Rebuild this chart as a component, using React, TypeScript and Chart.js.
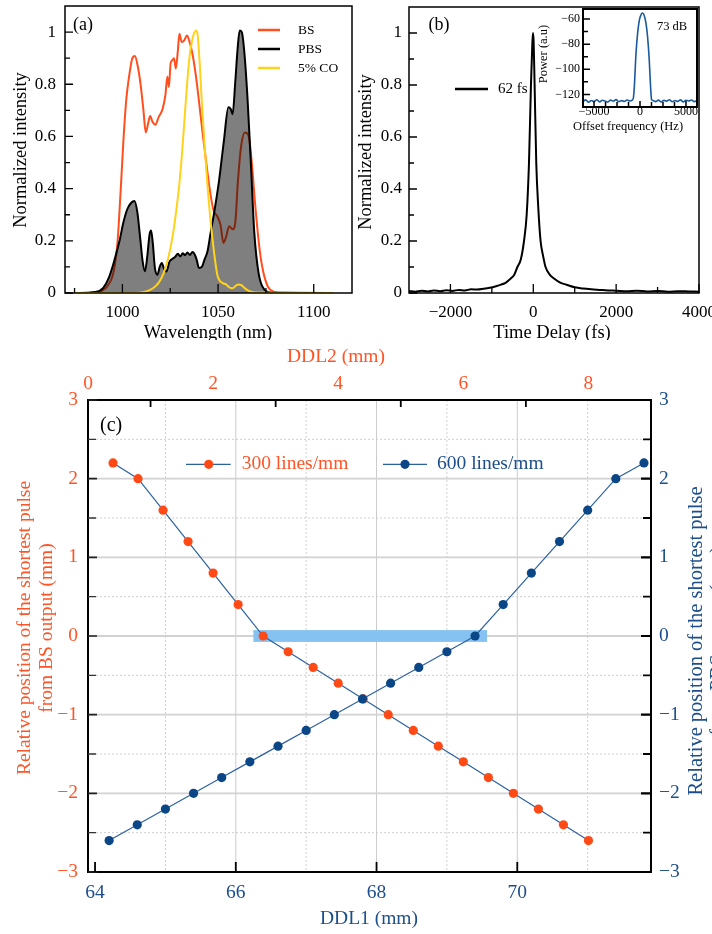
import React, { useEffect, useRef } from "react";
import { Chart, registerables } from "chart.js";

Chart.register(...registerables);

/* ===================== DATA ===================== */
// (a) spectra
const BS_WL = [975, 985, 989, 992.5, 995.5, 997.5, 999, 1000.5, 1002, 1003.5, 1005, 1006.5, 1008, 1009.5, 1011, 1012.2, 1013.3, 1014.5, 1015.8, 1017.2, 1019, 1021, 1022.5, 1023.5, 1024.3, 1025.2, 1026.2, 1027, 1027.9, 1029, 1029.8, 1031, 1032.3, 1033.7, 1035, 1036.6, 1038.4, 1040.1, 1041.9, 1043.6, 1045.4, 1047.5, 1049.5, 1051.3, 1052.8, 1054.2, 1055.8, 1057.6, 1059, 1060.3, 1062, 1064, 1065.8, 1067.5, 1069.5, 1071.5, 1073.5, 1076, 1079, 1083, 1110];
const BS_I = [0, 0.002, 0.008, 0.03, 0.085, 0.2, 0.38, 0.58, 0.74, 0.83, 0.895, 0.908, 0.87, 0.8, 0.7, 0.615, 0.645, 0.678, 0.655, 0.645, 0.675, 0.705, 0.76, 0.83, 0.79, 0.88, 0.893, 0.9, 0.86, 0.93, 0.994, 0.962, 0.968, 0.987, 0.965, 0.917, 0.833, 0.73, 0.615, 0.513, 0.41, 0.32, 0.295, 0.26, 0.192, 0.215, 0.256, 0.244, 0.27, 0.42, 0.56, 0.615, 0.605, 0.51, 0.33, 0.18, 0.085, 0.025, 0.005, 0.001, 0];

const PBS_WL = [975, 986, 990, 993, 996, 998.5, 1000.5, 1002.5, 1004.5, 1006.3, 1007.8, 1009.3, 1010.6, 1011.8, 1013, 1014.2, 1015, 1015.9, 1017, 1018.3, 1019.5, 1020.6, 1021.8, 1023, 1024.6, 1026, 1027.5, 1029, 1030.3, 1031.5, 1032.8, 1034, 1035.3, 1036.6, 1037.6, 1038.8, 1040, 1041.5, 1043, 1044.5, 1046.2, 1048, 1050.5, 1053, 1055.4, 1056.6, 1057.6, 1059, 1060.2, 1061.3, 1062.4, 1063.7, 1065.4, 1067.2, 1068.9, 1071.2, 1074.2, 1078.5, 1110];
const PBS_I = [0, 0.004, 0.02, 0.06, 0.13, 0.2, 0.27, 0.32, 0.345, 0.353, 0.31, 0.21, 0.12, 0.083, 0.14, 0.225, 0.24, 0.19, 0.095, 0.07, 0.1, 0.115, 0.092, 0.082, 0.12, 0.13, 0.138, 0.15, 0.14, 0.152, 0.145, 0.155, 0.146, 0.157, 0.15, 0.128, 0.096, 0.1, 0.13, 0.16, 0.235, 0.31, 0.43, 0.58, 0.712, 0.705, 0.685, 0.81, 0.935, 1.006, 1.0, 0.925, 0.745, 0.49, 0.235, 0.075, 0.013, 0.001, 0];

const CO_WL = [975, 1005, 1012, 1016, 1019, 1021.5, 1024, 1026.3, 1028.2, 1029.8, 1031.2, 1032.5, 1033.8, 1035, 1036.2, 1037.4, 1038.4, 1039.3, 1040.4, 1041.6, 1043, 1044.6, 1046.3, 1048, 1049.6, 1050.8, 1052.4, 1054.1, 1055.8, 1057.6, 1059.3, 1060.8, 1062.2, 1063.7, 1066, 1069.5, 1110];
const CO_I = [0, 0, 0.005, 0.018, 0.04, 0.075, 0.135, 0.22, 0.32, 0.42, 0.54, 0.67, 0.8, 0.9, 0.96, 0.995, 1.006, 0.99, 0.88, 0.72, 0.56, 0.4, 0.26, 0.15, 0.07, 0.048, 0.038, 0.033, 0.022, 0.018, 0.028, 0.033, 0.03, 0.02, 0.008, 0.002, 0];

const A_X_TICKS = [1000, 1050, 1100];
const A_X_MINOR = [975, 1025, 1075];
const A_Y_TICKS = [0, 0.2, 0.4, 0.6, 0.8, 1];
const A_Y_MINOR = [0.1, 0.3, 0.5, 0.7, 0.9];
const A_LEGEND = ["BS", "PBS", "5% CO"];

// (b) autocorrelation
const AC_T = [-3000, -2850, -2700, -2550, -2400, -2250, -2100, -1950, -1800, -1650, -1500, -1350, -1200, -1050, -900, -780, -660, -550, -460, -384, -300, -224, -160, -104, -56, -25, -8, 8, 32, 72, 120, 176, 240, 296, 400, 500, 650, 800, 1000, 1200, 1400, 1600, 1800, 2000, 2250, 2500, 2750, 3000, 3250, 3500, 3750, 4000];
const AC_I = [0.008, 0.005, 0.009, 0.006, 0.01, 0.007, 0.011, 0.008, 0.012, 0.01, 0.014, 0.013, 0.016, 0.02, 0.026, 0.032, 0.04, 0.055, 0.07, 0.1, 0.13, 0.2, 0.3, 0.5, 0.8, 0.95, 1.0, 0.97, 0.8, 0.5, 0.33, 0.2, 0.14, 0.1, 0.07, 0.056, 0.04, 0.032, 0.022, 0.017, 0.014, 0.012, 0.01, 0.009, 0.007, 0.009, 0.006, 0.008, 0.005, 0.007, 0.006, 0.005];
const B_X_TICKS = [-2000, 0, 2000, 4000];
const B_X_MINOR = [-1000, 1000, 3000];
const B_LEGEND = "62 fs";

// (b) inset RF spectrum
const RF_F = [-6200, -5900, -5600, -5300, -5000, -4700, -4400, -4100, -3800, -3500, -3200, -2900, -2600, -2300, -2000, -1700, -1400, -1100, -850, -725, -617, -433, -258, -76, 108, 281, 465, 649, 822, 1006, 1150, 1256, 1400, 1700, 2000, 2300, 2600, 2900, 3200, 3500, 3800, 4100, 4400, 4700, 5000, 5300, 5600, 5900, 6200];
const RF_P = [-125.5, -124.3, -126.2, -124.8, -125.6, -124.2, -125.9, -124.6, -125.3, -126, -124.5, -125.4, -124.1, -125.8, -124.9, -125.6, -124.4, -125.2, -124.6, -123, -113.9, -87, -71.2, -61, -56.6, -55.2, -57.4, -63.2, -73.9, -92.6, -113.9, -124, -124.9, -125.7, -124.5, -126, -124.7, -125.3, -124.2, -125.8, -124.8, -125.5, -124.3, -125.9, -124.6, -125.2, -124.4, -125.7, -125];
const RF_X_TICKS = [-5000, 0, 5000];
const RF_X_MINOR = [-3750, -2500, -1250, 1250, 2500, 3750];
const RF_Y_TICKS = [-120, -100, -80, -60];
const RF_Y_MINOR = [-110, -90, -70];
const RF_NOTE = "73 dB";

// (c) relative position
const DDL2_300 = [0.4, 0.8, 1.2, 1.6, 2.0, 2.4, 2.8, 3.2, 3.6, 4.0, 4.4, 4.8, 5.2, 5.6, 6.0, 6.4, 6.8, 7.2, 7.6, 8.0];
const POS_300 = [2.2, 2.0, 1.6, 1.2, 0.8, 0.4, 0, -0.2, -0.4, -0.6, -0.8, -1.0, -1.2, -1.4, -1.6, -1.8, -2.0, -2.2, -2.4, -2.6];
const DDL1_600 = [64.2, 64.6, 65.0, 65.4, 65.8, 66.2, 66.6, 67.0, 67.4, 67.8, 68.2, 68.6, 69.0, 69.4, 69.8, 70.2, 70.6, 71.0, 71.4, 71.8];
const POS_600 = [-2.6, -2.4, -2.2, -2.0, -1.8, -1.6, -1.4, -1.2, -1.0, -0.8, -0.6, -0.4, -0.2, 0, 0.4, 0.8, 1.2, 1.6, 2.0, 2.2];
const C_LEGEND = ["300 lines/mm", "600 lines/mm"];
const HIGHLIGHT_X = [66.25, 69.57];
const HIGHLIGHT_Y = [-0.075, 0.075];
const C_Y_TICKS = [-3, -2, -1, 0, 1, 2, 3];
const C_Y_HALF = [-2.5, -1.5, -0.5, 0.5, 1.5, 2.5];
const C_Y_GRID = [-2, -1, 0, 1, 2];
const DDL1_TICKS = [64, 66, 68, 70];
const DDL1_GRID_SOLID = [66, 68, 70];
const DDL1_GRID_DOT = [65, 67, 69, 71];
const DDL2_TICKS = [0, 2, 4, 6, 8];
const DDL2_MARKS = [1, 3, 5, 7];

/* ===================== STYLE ===================== */
const SERIF = '"Liberation Serif", "Times New Roman", serif';
const ORANGE_A = "#ff4f1f";
const YELLOW = "#ffd21c";
const ORANGE = "#ff4a16";
const ORANGE_TXT = "#ff5426";
const BLUE = "#0b4686";
const BLUE_TXT = "#1c4e8b";
const BLUE_LINE = "#2c61a0";
const RF_BLUE = "#1b5a9c";

const fmt = (v: any) => String(v).replace("-", "\u2212");
const xy = (xs: number[], ys: number[]) => xs.map((x, i) => ({ x, y: ys[i] }));

function scale(o: any) {
  const horiz = o.pos === "top" || o.pos === "bottom";
  return {
    type: "linear",
    axis: horiz ? "x" : "y",
    position: o.pos,
    min: o.min,
    max: o.max,
    bounds: "data",
    grid: { display: false, drawTicks: false },
    border: { display: false },
    afterBuildTicks: (s: any) => {
      s.ticks = o.ticks.map((v: number) => ({ value: v }));
    },
    afterFit: (s: any) => {
      if (horiz) s.height = o.size;
      else s.width = o.size;
      s.paddingLeft = 0;
      s.paddingRight = 0;
      s.paddingTop = 0;
      s.paddingBottom = 0;
    },
    ticks: {
      autoSkip: false,
      maxRotation: 0,
      minRotation: 0,
      padding: o.padding,
      color: o.color || "#000",
      font: { family: SERIF, size: o.font, lineHeight: o.lh || 1.2 },
      callback: (v: any) => fmt(v),
    },
  };
}

function baseOptions(padding: any, scales: any) {
  return {
    responsive: false,
    animation: false,
    devicePixelRatio: 1,
    events: [],
    layout: { padding },
    plugins: { legend: { display: false }, tooltip: { enabled: false }, title: { display: false } },
    elements: { point: { radius: 0 }, line: { tension: 0 } },
    scales,
  };
}

function frame(chart: any, w: number) {
  const ctx = chart.ctx;
  const a = chart.chartArea;
  ctx.save();
  ctx.strokeStyle = "#000";
  ctx.lineWidth = w;
  ctx.strokeRect(a.left, a.top, a.right - a.left, a.bottom - a.top);
  ctx.restore();
}

function marks(chart: any, id: string, vals: number[], len: number, side: string, w = 1.3, color = "#000") {
  const ctx = chart.ctx;
  const a = chart.chartArea;
  const s = chart.scales[id];
  ctx.save();
  ctx.strokeStyle = color;
  ctx.lineWidth = w;
  ctx.beginPath();
  for (const v of vals) {
    const p = s.getPixelForValue(v);
    if (side === "bottom") { ctx.moveTo(p, a.bottom); ctx.lineTo(p, a.bottom - len); }
    else if (side === "top") { ctx.moveTo(p, a.top); ctx.lineTo(p, a.top + len); }
    else if (side === "left") { ctx.moveTo(a.left, p); ctx.lineTo(a.left + len, p); }
    else { ctx.moveTo(a.right, p); ctx.lineTo(a.right - len, p); }
  }
  ctx.stroke();
  ctx.restore();
}

function text(ctx: any, s: string, x: number, y: number, size: number, color = "#000", align = "center", rot = 0) {
  ctx.save();
  ctx.translate(x, y);
  if (rot) ctx.rotate(rot);
  ctx.font = `${size}px ${SERIF}`;
  ctx.fillStyle = color;
  ctx.textAlign = align;
  ctx.textBaseline = "middle";
  ctx.fillText(s, 0, 0);
  ctx.restore();
}

function hline(ctx: any, x1: number, x2: number, y: number, color: string, w: number) {
  ctx.save();
  ctx.strokeStyle = color;
  ctx.lineWidth = w;
  ctx.beginPath();
  ctx.moveTo(x1, y);
  ctx.lineTo(x2, y);
  ctx.stroke();
  ctx.restore();
}

/* ===================== PANEL CONFIGS ===================== */
function makeA() {
  const plugin = {
    id: "panelA",
    afterDraw(chart: any) {
      const ctx = chart.ctx;
      frame(chart, 1.5);
      marks(chart, "x", A_X_TICKS, 9, "bottom");
      marks(chart, "x", A_X_MINOR, 5, "bottom");
      marks(chart, "y", A_Y_TICKS, 8, "left");
      marks(chart, "y", A_Y_MINOR, 5, "left");
      const cols = [ORANGE_A, "#000", YELLOW];
      A_LEGEND.forEach((lab, i) => {
        const y = 30 + i * 19;
        hline(ctx, 258, 280, y, cols[i], 2.5);
        text(ctx, lab, 298, y, 13.5, "#000", "left");
      });
      text(ctx, "(a)", 83, 25, 18);
      text(ctx, "Normalized intensity", 21, 150, 18.5, "#000", "center", -Math.PI / 2);
      text(ctx, "Wavelength (nm)", 208, 333, 18.5);
    },
  };
  return {
    type: "line",
    data: {
      datasets: [
        { data: xy(CO_WL, CO_I), borderColor: YELLOW, borderWidth: 2, pointRadius: 0, cubicInterpolationMode: "monotone", fill: false },
        { data: xy(PBS_WL, PBS_I), borderColor: "#000", borderWidth: 2, pointRadius: 0, cubicInterpolationMode: "monotone", fill: "origin", backgroundColor: "rgba(0,0,0,0.5)" },
        { data: xy(BS_WL, BS_I), borderColor: ORANGE_A, borderWidth: 2, pointRadius: 0, cubicInterpolationMode: "monotone", fill: false },
      ],
    },
    options: baseOptions({ left: 0, top: 6, right: 10, bottom: 0 }, {
      x: scale({ pos: "bottom", min: 970, max: 1120, ticks: A_X_TICKS, size: 47, padding: 9, font: 17 }),
      y: scale({ pos: "left", min: 0, max: 1.1, ticks: A_Y_TICKS, size: 65, padding: 9, font: 17 }),
    }),
    plugins: [plugin],
  };
}

function makeB() {
  const plugin = {
    id: "panelB",
    afterDraw(chart: any) {
      const ctx = chart.ctx;
      frame(chart, 1.5);
      marks(chart, "x", B_X_TICKS, 9, "bottom");
      marks(chart, "x", B_X_MINOR, 6, "bottom");
      marks(chart, "y", A_Y_TICKS, 8, "left");
      marks(chart, "y", A_Y_MINOR, 5, "left");
      hline(ctx, 100, 133, 89, "#000", 2.5);
      text(ctx, B_LEGEND, 143, 89, 15, "#000", "left");
      text(ctx, "(b)", 84, 25, 18);
      text(ctx, "Normalized intensity", 11.5, 152, 18.5, "#000", "center", -Math.PI / 2);
      text(ctx, "Time Delay (fs)", 197, 333, 18.5);
    },
  };
  return {
    type: "line",
    data: {
      datasets: [
        { data: xy(AC_T, AC_I), borderColor: "#000", borderWidth: 2, pointRadius: 0, cubicInterpolationMode: "monotone", fill: false },
      ],
    },
    options: baseOptions({ left: 0, top: 7, right: 13, bottom: 0 }, {
      x: scale({ pos: "bottom", min: -3000, max: 4000, ticks: B_X_TICKS, size: 47, padding: 9, font: 17 }),
      y: scale({ pos: "left", min: 0, max: 1.1, ticks: A_Y_TICKS, size: 54, padding: 7, font: 17 }),
    }),
    plugins: [plugin],
  };
}

function makeInset() {
  const plugin = {
    id: "inset",
    beforeDraw(chart: any) {
      const ctx = chart.ctx;
      const a = chart.chartArea;
      ctx.save();
      ctx.fillStyle = "#fff";
      ctx.fillRect(a.left, a.top, a.right - a.left, a.bottom - a.top);
      ctx.restore();
    },
    afterDraw(chart: any) {
      const ctx = chart.ctx;
      frame(chart, 2);
      marks(chart, "x", RF_X_TICKS, 6, "bottom", 1.5);
      marks(chart, "x", RF_X_MINOR, 5, "bottom", 1.5);
      marks(chart, "y", RF_Y_TICKS, 7, "left", 1.5);
      marks(chart, "y", RF_Y_MINOR, 5, "left", 1.5);
      text(ctx, RF_NOTE, 137, 27, 12.5);
      text(ctx, "Power (a.u)", 9, 54, 12.5, "#000", "center", -Math.PI / 2);
      text(ctx, "Offset frequency (Hz)", 93, 127, 12.5);
    },
  };
  return {
    type: "line",
    data: {
      datasets: [
        { data: xy(RF_F, RF_P), borderColor: RF_BLUE, borderWidth: 1.6, pointRadius: 0, cubicInterpolationMode: "monotone", fill: false },
      ],
    },
    options: baseOptions({ left: 0, top: 9, right: 15, bottom: 0 }, {
      x: scale({ pos: "bottom", min: -6200, max: 6200, ticks: RF_X_TICKS, size: 33, padding: -1, font: 12, lh: 1 }),
      y: scale({ pos: "left", min: -130, max: -52, ticks: RF_Y_TICKS, size: 48, padding: 3, font: 12 }),
    }),
    plugins: [plugin],
  };
}

function makeC() {
  const plugin = {
    id: "panelC",
    beforeDatasetsDraw(chart: any) {
      const ctx = chart.ctx;
      const a = chart.chartArea;
      const xs = chart.scales.x;
      const ys = chart.scales.y;
      ctx.save();
      // dotted grid
      ctx.setLineDash([2, 2]);
      ctx.strokeStyle = "#cfcfcf";
      ctx.lineWidth = 1;
      ctx.beginPath();
      for (const v of C_Y_HALF) { const p = ys.getPixelForValue(v); ctx.moveTo(a.left, p); ctx.lineTo(a.right, p); }
      for (const v of DDL1_GRID_DOT) { const p = xs.getPixelForValue(v); ctx.moveTo(p, a.top); ctx.lineTo(p, a.bottom); }
      ctx.stroke();
      ctx.setLineDash([]);
      // solid grid
      ctx.strokeStyle = "#cbcbcb";
      ctx.lineWidth = 1;
      ctx.beginPath();
      for (const v of DDL1_GRID_SOLID) { const p = xs.getPixelForValue(v); ctx.moveTo(p, a.top); ctx.lineTo(p, a.bottom); }
      ctx.stroke();
      ctx.strokeStyle = "#d2d2d2";
      ctx.lineWidth = 1.8;
      ctx.beginPath();
      for (const v of C_Y_GRID) { const p = ys.getPixelForValue(v); ctx.moveTo(a.left, p); ctx.lineTo(a.right, p); }
      ctx.stroke();
      // highlight band
      const x1 = xs.getPixelForValue(HIGHLIGHT_X[0]);
      const x2 = xs.getPixelForValue(HIGHLIGHT_X[1]);
      const y1 = ys.getPixelForValue(HIGHLIGHT_Y[1]);
      const y2 = ys.getPixelForValue(HIGHLIGHT_Y[0]);
      ctx.fillStyle = "#86c2f1";
      ctx.fillRect(x1, y1, x2 - x1, y2 - y1);
      ctx.restore();
    },
    afterDraw(chart: any) {
      const ctx = chart.ctx;
      frame(chart, 2);
      marks(chart, "y", C_Y_TICKS, 9, "left", 1.6, "#222");
      marks(chart, "y", C_Y_HALF, 8, "left", 1.4, "#333");
      marks(chart, "y", C_Y_TICKS, 10, "right", 2.2);
      marks(chart, "y", C_Y_HALF, 8, "right", 1.8);
      marks(chart, "x", DDL1_TICKS, 10, "bottom", 1.8);
      marks(chart, "x2", DDL2_MARKS, 7, "top", 1.8);
      // legend
      const ly = 124.3;
      hline(ctx, 186, 230.7, ly, BLUE_LINE, 1.3);
      ctx.save();
      ctx.fillStyle = ORANGE;
      ctx.beginPath();
      ctx.arc(208.7, ly, 4.6, 0, Math.PI * 2);
      ctx.fill();
      ctx.restore();
      text(ctx, C_LEGEND[0], 241.7, ly, 19.5, ORANGE_TXT, "left");
      hline(ctx, 383, 427, ly, BLUE_LINE, 1.3);
      ctx.save();
      ctx.fillStyle = BLUE;
      ctx.beginPath();
      ctx.arc(405, ly, 4.6, 0, Math.PI * 2);
      ctx.fill();
      ctx.restore();
      text(ctx, C_LEGEND[1], 437, ly, 19.5, BLUE_TXT, "left");
      // labels
      text(ctx, "(c)", 100, 86, 20, "#000", "left");
      text(ctx, "DDL2 (mm)", 336, 17, 19.5, ORANGE_TXT);
      text(ctx, "DDL1 (mm)", 369, 579, 19.5, BLUE_TXT);
      text(ctx, "Relative position of the shortest pulse", 25, 288, 19.5, ORANGE_TXT, "center", -Math.PI / 2);
      text(ctx, "from BS output (mm)", 47, 288, 19.5, ORANGE_TXT, "center", -Math.PI / 2);
      text(ctx, "Relative position of the shortest pulse", 697, 301, 20.5, BLUE_TXT, "center", -Math.PI / 2);
      text(ctx, "from PBS output (mm)", 719, 301, 20.5, BLUE_TXT, "center", -Math.PI / 2);
    },
  };
  return {
    type: "line",
    data: {
      datasets: [
        { data: xy(DDL1_600, POS_600), xAxisID: "x", yAxisID: "y", borderColor: BLUE_LINE, borderWidth: 1.2, pointRadius: 4.6, pointBackgroundColor: BLUE, pointBorderWidth: 0, fill: false },
        { data: xy(DDL2_300, POS_300), xAxisID: "x2", yAxisID: "y", borderColor: BLUE_LINE, borderWidth: 1.2, pointRadius: 4.6, pointBackgroundColor: ORANGE, pointBorderWidth: 0, fill: false },
      ],
    },
    options: baseOptions({ left: 0, top: 0, right: 0, bottom: 0 }, {
      x: scale({ pos: "bottom", min: 63.9, max: 71.9, ticks: DDL1_TICKS, size: 62, padding: 9, font: 19.5, color: BLUE_TXT }),
      x2: scale({ pos: "top", min: 0, max: 9, ticks: DDL2_TICKS, size: 60, padding: 4, font: 19.5, color: ORANGE_TXT }),
      y: scale({ pos: "left", min: -3, max: 3, ticks: C_Y_TICKS, size: 88, padding: 10, font: 19.5, color: ORANGE_TXT }),
      y2: scale({ pos: "right", min: -3, max: 3, ticks: C_Y_TICKS, size: 61, padding: 8, font: 19.5, color: BLUE_TXT }),
    }),
    plugins: [plugin],
  };
}

/* ===================== COMPONENTS ===================== */
function ChartBox({ left, top, width, height, make }: { left: number; top: number; width: number; height: number; make: () => any }) {
  const ref = useRef<HTMLCanvasElement>(null);
  useEffect(() => {
    const chart = new Chart(ref.current as HTMLCanvasElement, make());
    return () => chart.destroy();
  }, []);
  return (
    <canvas
      ref={ref}
      width={width}
      height={height}
      style={{ position: "absolute", left, top, width, height }}
    />
  );
}

export default function App() {
  return (
    <div style={{ position: "absolute", left: 0, top: 0, width: 712, height: 934, background: "#fff", overflow: "hidden" }}>
      <ChartBox left={0} top={0} width={362} height={340} make={makeA} />
      <ChartBox left={355} top={0} width={357} height={340} make={makeB} />
      <ChartBox left={535} top={0} width={177} height={140} make={makeInset} />
      <ChartBox left={0} top={340} width={712} height={594} make={makeC} />
    </div>
  );
}
